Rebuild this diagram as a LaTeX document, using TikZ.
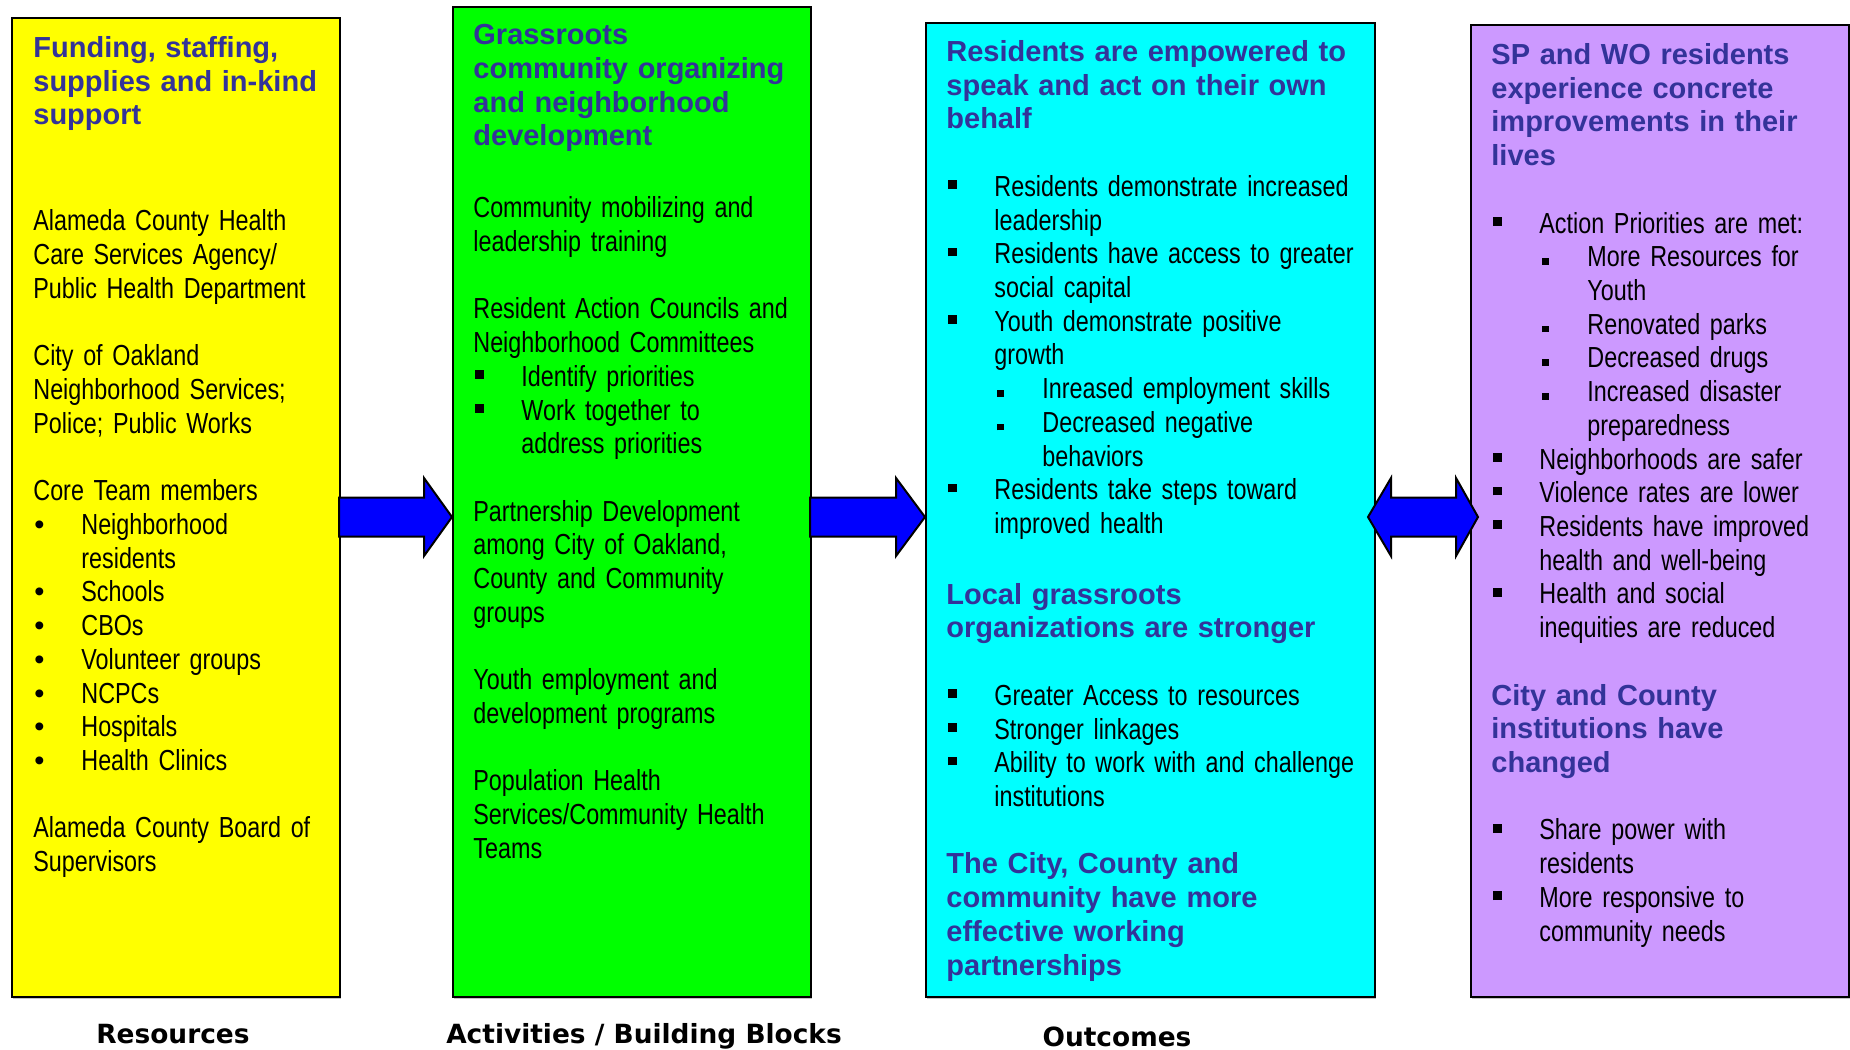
\documentclass[tikz,border=0pt]{standalone}
\usepackage{fontspec}
\setmainfont{Liberation Sans}
\newfontfamily\narrowfont{Liberation Sans}[FakeStretch=0.805]
\newfontfamily\labfont{DejaVu Sans}
\usetikzlibrary{shadows,fit,calc}
\setlength{\parindent}{0pt}
\definecolor{resyellow}{RGB}{255,255,0}
\definecolor{actgreen}{RGB}{0,255,0}
\definecolor{outcyan}{RGB}{0,255,255}
\definecolor{implilac}{RGB}{204,153,255}
\definecolor{headblue}{RGB}{51,51,153}
\tikzstyle{panel}=[draw=black, line width=1pt, inner sep=0pt, drop shadow={shadow xshift=0.5pt, shadow yshift=-1pt, fill=black!45}]
\tikzstyle{paneltext}=[anchor=north west, inner sep=0pt, text width=225pt, execute at begin node={\raggedright}, font=\fontsize{14.5}{16.86}\selectfont]
\tikzstyle{blockarrow}=[draw=black, fill=blue, line width=1pt]
\tikzstyle{caption}=[anchor=base, inner sep=0pt, font=\labfont\bfseries\fontsize{13.2}{16}\selectfont]
% heading / body text and bullets
\newcommand{\hd}{\color{headblue}\normalfont\bfseries}
\newcommand{\bd}{\color{black}\normalfont\narrowfont}
\newcommand{\sqb}{\rule[3.7pt]{4.3pt}{4.3pt}}
\newcommand{\ssqb}{\rule[1pt]{3.3pt}{3.3pt}}
\newcommand{\itm}{\makebox[24pt][l]{\hspace*{1pt}\sqb}}
\newcommand{\sitm}{\makebox[48pt][l]{\hspace*{25.5pt}\ssqb}}
\newcommand{\dotitm}{\makebox[24pt][l]{\hspace*{0.5pt}\normalfont\textbullet}}
\newcommand{\cont}{\hspace*{24pt}}
\newcommand{\scont}{\hspace*{48pt}}
\newcommand{\gap}{\\[16.86pt]}

\begin{document}
\begin{tikzpicture}[x=0.5pt, y=-0.5pt]

   \useasboundingbox (0,0) rectangle (1850,1049);

   % the four columns
   \node[panel, fill=resyellow, fit={(12,18) (340,997)}] (res) {};
   \node[panel, fill=actgreen, fit={(453,7) (811,997)}] (act) {};
   \node[panel, fill=outcyan, fit={(926,23) (1375,997)}] (out) {};
   \node[panel, fill=implilac, fit={(1471,25) (1849,997)}] (imp) {};

   % block arrows between columns
   \foreach \from/ \to/ \hl in {res/act/28, act/out/29} {
      \coordinate (t) at (\from.east |- 0,517);
      \coordinate (h) at (\to.west |- 0,517);
      \draw[blockarrow] ($(t)+(-2,-19.5)$) -- ($(h)+(-\hl,-19.5)$) -- ($(h)+(-\hl,-39)$) -- (h)
         -- ($(h)+(-\hl,39)$) -- ($(h)+(-\hl,19.5)$) -- ($(t)+(-2,19.5)$) -- cycle;
   }
   \coordinate (l) at ($(out.east |- 0,517)+(-8,0)$);
   \coordinate (r) at ($(imp.west |- 0,517)+(8,0)$);
   \draw[blockarrow] (l) -- ++(23,-39) -- ++(0,19.5) -- ($(r)+(-22,-19.5)$) -- ++(0,-19.5) -- (r)
      -- ++(-22,39) -- ++(0,-19.5) -- ($(l)+(23,19.5)$) -- ++(0,19.5) -- cycle;

   % column texts
   \node[paneltext] (restext) at (33,36) {\hd Funding, staffing,\\ supplies and in-kind\\ support\\[36.2pt]
      \bd Alameda County Health\\ Care Services Agency/\\ Public Health Department\gap
      City of Oakland\\ Neighborhood Services;\\ Police; Public Works\gap
      Core Team members\\ \dotitm Neighborhood\\ \cont residents\\ \dotitm Schools\\ \dotitm CBOs\\
      \dotitm Volunteer groups\\ \dotitm NCPCs\\ \dotitm Hospitals\\ \dotitm Health Clinics\gap
      Alameda County Board of\\ Supervisors};

   \node[paneltext] (acttext) at (473,24) {\hd Grassroots\\ community organizing\\ and neighborhood\\ development\\[19.1pt]
      \bd Community mobilizing and\\ leadership training\gap
      Resident Action Councils and\\ Neighborhood Committees\\ \itm Identify priorities\\ \itm Work together to\\ \cont address priorities\gap
      Partnership Development\\ among City of Oakland,\\ County and Community\\ groups\gap
      Youth employment and\\ development programs\gap
      Population Health\\ Services/Community Health\\ Teams};

   \node[paneltext] (outtext) at (946,40) {\hd Residents are empowered to\\ speak and act on their own\\ behalf\gap
      \bd \itm Residents demonstrate increased\\ \cont leadership\\ \itm Residents have access to greater\\ \cont social capital\\
      \itm Youth demonstrate positive\\ \cont growth\\ \sitm Inreased employment skills\\ \sitm Decreased negative\\ \scont behaviors\\
      \itm Residents take steps toward\\ \cont improved health\\[18.5pt]
      \hd Local grassroots\\ organizations are stronger\gap
      \bd \itm Greater Access to resources\\ \itm Stronger linkages\\ \itm Ability to work with and challenge\\ \cont institutions\gap
      \hd The City, County and\\ community have more\\ effective working\\ partnerships};

   \node[paneltext] (imptext) at (1491,43) {\hd SP and WO residents\\ experience concrete\\ improvements in their\\ lives\gap
      \bd \itm Action Priorities are met:\\ \sitm More Resources for\\ \scont Youth\\ \sitm Renovated parks\\ \sitm Decreased drugs\\
      \sitm Increased disaster\\ \scont preparedness\\ \itm Neighborhoods are safer\\ \itm Violence rates are lower\\
      \itm Residents have improved\\ \cont health and well-being\\ \itm Health and social\\ \cont inequities are reduced\gap
      \hd City and County\\ institutions have\\ changed\gap
      \bd \itm Share power with\\ \cont residents\\ \itm More responsive to\\ \cont community needs};

   % captions under the columns
   \node[caption] (lres) at (173,1043) {Resources};
   \node[caption] (lact) at (644,1043) {Activities / Building Blocks};
   \node[caption] (lout) at (1117,1046) {Outcomes};
\end{tikzpicture}
\end{document}
